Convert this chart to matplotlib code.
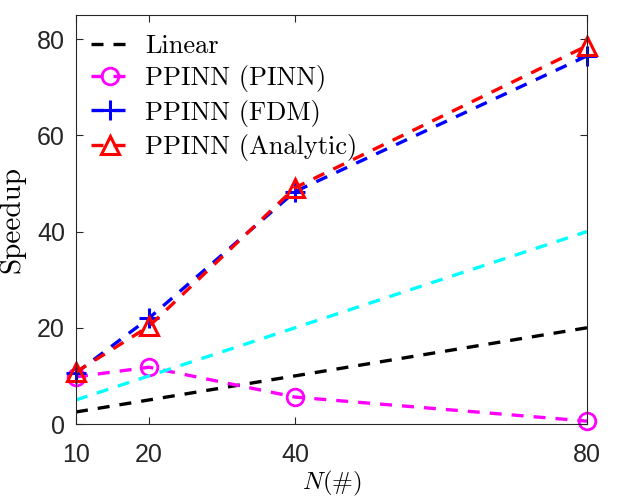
import matplotlib
matplotlib.use("Agg")
import matplotlib.pyplot as plt
import numpy as np

plt.rcParams['mathtext.fontset'] = 'cm'

# nombre de sous-domaines
n_sub = [10, 20, 40, 80]
linear = [2.5, 5, 10, 20]
linear_x2 = [5, 10, 20, 40]
ppinn_pinn = [9.8, 11.8, 5.6, 0.6]
ppinn_fdm = [10.6, 22.0, 48.3, 76.5]
ppinn_analytic = [10.8, 20.3, 49.1, 78.6]

xticks = [10, 20, 40, 80]
yticks = [0, 20, 40, 60, 80]

fig = plt.figure(figsize=(6.25, 5), dpi=100)
ax = fig.add_axes([0.1216, 0.152, 0.8176, 0.818])

lw = 2.4
dash = (3.6, 3.0)
ax.plot(n_sub, linear, '--', color='k', lw=lw, dashes=dash, label='Linear')
ax.plot(n_sub, ppinn_pinn, '--', color='#FF00FF', lw=lw, dashes=dash,
        marker='o', ms=12, mfc='none', mew=2, clip_on=False,
        label='PPINN (PINN)')
ax.plot(n_sub, ppinn_fdm, '--', color='#0000FF', lw=lw, dashes=dash,
        marker='+', ms=14, mew=2.2, clip_on=False, label='PPINN (FDM)')
ax.plot(n_sub, ppinn_analytic, '--', color='#FF0000', lw=lw, dashes=dash,
        marker='^', ms=13, mfc='none', mew=2.2, clip_on=False,
        label='PPINN (Analytic)')
ax.plot(n_sub, linear_x2, '--', color='#00FFFF', lw=lw, dashes=dash)

ax.set_xlim(10, 80)
ax.set_ylim(0, 85)
ax.set_xticks(xticks)
ax.set_yticks(yticks)
ax.tick_params(direction='in', top=True, right=True, length=5, width=0.8,
               labelsize=18, colors='#262626')
ax.tick_params(axis='x', pad=14)
ax.tick_params(axis='y', pad=8)
for lab in ax.get_xticklabels() + ax.get_yticklabels():
    lab.set_fontfamily('Liberation Sans')
for sp in ax.spines.values():
    sp.set_color('#262626')
    sp.set_linewidth(0.8)

ax.set_xlabel(r'$N(\#)$', fontsize=18, labelpad=1)
ax.set_ylabel('Speedup', fontsize=21, fontfamily='cmr10', labelpad=8)

ax.legend(loc='upper left', bbox_to_anchor=(0.03, 0.953), frameon=False,
          prop={'family': 'cmr10', 'size': 19}, handlelength=1.4,
          handletextpad=0.65, labelspacing=0.28, borderpad=0, borderaxespad=0)

fig.savefig('out.png', dpi=100)
